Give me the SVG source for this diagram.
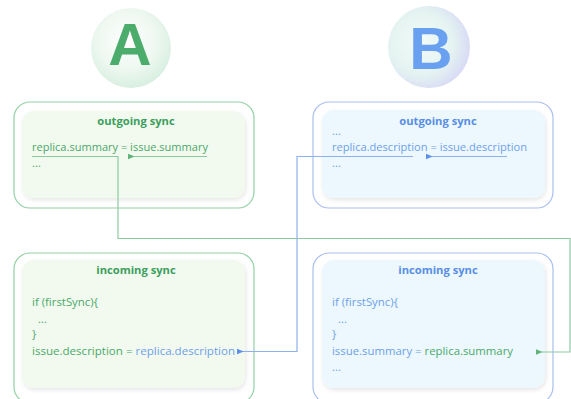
<svg xmlns="http://www.w3.org/2000/svg" width="571" height="399" viewBox="0 0 571 399">
<defs>
  <radialGradient id="gA" cx="0.45" cy="0.4" r="0.6">
    <stop offset="0" stop-color="#ffffff"/>
    <stop offset="0.6" stop-color="#eef8f1"/>
    <stop offset="1" stop-color="#d9efe1"/>
  </radialGradient>
  <radialGradient id="gB" cx="0.4" cy="0.45" r="0.65">
    <stop offset="0" stop-color="#f2fbf8"/>
    <stop offset="0.6" stop-color="#e4f3f1"/>
    <stop offset="1" stop-color="#d6d6f6"/>
  </radialGradient>
  <filter id="sh" x="-10%" y="-10%" width="120%" height="125%">
    <feDropShadow dx="1" dy="2" stdDeviation="2" flood-color="#000" flood-opacity="0.10"/>
  </filter>
  <marker id="ag" viewBox="0 0 10 10" refX="1" refY="5" markerWidth="6" markerHeight="6" orient="auto-start-reverse">
    <path d="M10,1 L0,5 L10,9 Z" fill="#5fb37b"/>
  </marker>
  <marker id="ab" viewBox="0 0 10 10" refX="1" refY="5" markerWidth="6" markerHeight="6" orient="auto-start-reverse">
    <path d="M10,1 L0,5 L10,9 Z" fill="#5d8fe8"/>
  </marker>
  <style>
    text { font-family: "Open Sans", "Liberation Sans", sans-serif; font-size: 11.4px; }
    .g { fill: #4aa86a; }
    .b { fill: #6f9fea; }
    .tg { fill: #3d9e5e; font-weight: bold; font-size: 11.2px; }
    .tb { fill: #5a8ee4; font-weight: bold; font-size: 11.2px; }
    .obA { fill: #ffffff; stroke: #93d0a6; stroke-width: 1.2; }
    .obB { fill: #ffffff; stroke: #a9bef0; stroke-width: 1.2; }
    .inA { fill: #f2faef; filter: url(#sh); }
    .inB { fill: #ecf8fd; filter: url(#sh); }
    .lg { fill: none; stroke: #8dcaa0; stroke-width: 1.2; }
    .lb { fill: none; stroke: #8fb0ee; stroke-width: 1.2; }
    .big { font-family: "Liberation Sans", Arial, sans-serif; font-weight: bold; font-size: 60px; }
  </style>
</defs>

<g id="circleA">
  <circle cx="131" cy="48" r="40" fill="url(#gA)"/>
  <text class="big" x="130" y="65" text-anchor="middle" fill="#4cac6b">A</text>
</g>
<g id="circleB">
  <circle cx="429" cy="47" r="41" fill="url(#gB)"/>
  <text class="big" x="431" y="69" text-anchor="middle" fill="#6aa0f0">B</text>
</g>

<g id="outgoingA">
  <rect class="obA" x="14" y="102" width="240" height="106" rx="16"/>
  <rect class="inA" x="22" y="111" width="223" height="87" rx="12"/>
  <text class="tg" x="136" y="125" text-anchor="middle">outgoing sync</text>
  <text class="g" x="32" y="151" textLength="176" lengthAdjust="spacingAndGlyphs">replica.summary = issue.summary</text>
  <text class="g" x="32" y="167">...</text>
</g>

<g id="outgoingB">
  <rect class="obB" x="313" y="102" width="240" height="106" rx="16"/>
  <rect class="inB" x="322" y="110" width="223" height="88" rx="12"/>
  <text class="tb" x="438" y="125" text-anchor="middle">outgoing sync</text>
  <text class="b" x="332" y="135">...</text>
  <text class="b" x="332" y="151" textLength="195" lengthAdjust="spacingAndGlyphs">replica.description = issue.description</text>
  <text class="b" x="332" y="167">...</text>
</g>

<g id="incomingA">
  <rect class="obA" x="14" y="253" width="240" height="150" rx="16"/>
  <rect class="inA" x="22" y="260" width="223" height="128" rx="12"/>
  <text class="tg" x="136" y="274" text-anchor="middle">incoming sync</text>
  <text class="g" x="32" y="306">if (firstSync){</text>
  <text class="g" x="38" y="323">...</text>
  <text class="g" x="32" y="338">}</text>
  <text x="32" y="355" textLength="203" lengthAdjust="spacingAndGlyphs"><tspan class="g">issue.description = </tspan><tspan class="b">replica.description</tspan></text>
</g>

<g id="incomingB">
  <rect class="obB" x="313" y="253" width="240" height="150" rx="16"/>
  <rect class="inB" x="322" y="260" width="223" height="128" rx="12"/>
  <text class="tb" x="438" y="274" text-anchor="middle">incoming sync</text>
  <text class="b" x="332" y="306">if (firstSync){</text>
  <text class="b" x="338" y="323">...</text>
  <text class="b" x="332" y="338">}</text>
  <text x="332" y="355" textLength="181" lengthAdjust="spacingAndGlyphs"><tspan class="b">issue.summary = </tspan><tspan class="g">replica.summary</tspan></text>
  <text class="b" x="332" y="371">...</text>
</g>

<g id="connectors">
  <path class="lg" d="M207,156.5 H134" marker-end="url(#ag)"/>
  <path class="lg" d="M32,156.5 H118 V238.5 H570 V352 H542" marker-end="url(#ag)"/>
  <path class="lb" d="M507,156.5 H432" marker-end="url(#ab)"/>
  <path class="lb" d="M413,156.5 H297 V351.5 H243" marker-end="url(#ab)"/>
</g>
</svg>
